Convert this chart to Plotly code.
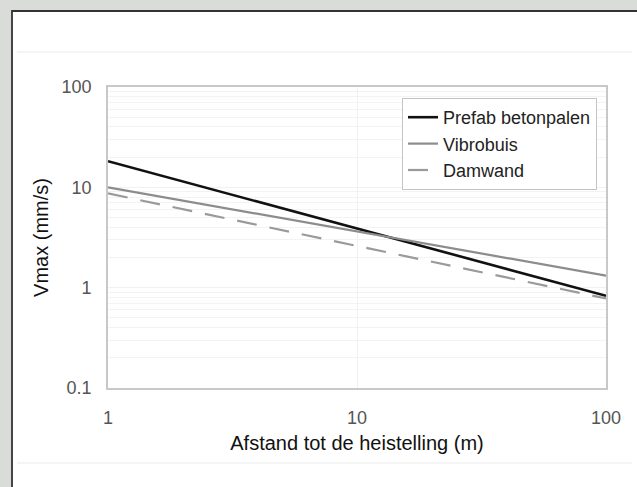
import plotly.graph_objects as go

# Data
distance_m = [1, 10, 100]
prefab_betonpalen = [18.2, 3.9, 0.83]
vibrobuis = [10.0, 3.65, 1.32]
damwand = [8.7, 2.6, 0.78]

x_tick_vals = [1, 10, 100]
x_tick_text = ["1", "10", "100"]
y_tick_vals = [0.1, 1, 10, 100]
y_tick_text = ["0.1", "1", "10", "100"]

W, H = 637, 487
L, R, T, B = 108, 31, 87, 99
pw, ph = W - L - R, H - T - B

def px(x):
    return (x - L) / pw

def py(y):
    return (H - B - y) / ph

FONT = "Liberation Sans, Arial, sans-serif"

fig = go.Figure()
fig.add_trace(go.Scatter(x=distance_m, y=prefab_betonpalen, mode="lines",
                         name="Prefab betonpalen",
                         line=dict(color="#111111", width=2.6)))
fig.add_trace(go.Scatter(x=distance_m, y=vibrobuis, mode="lines",
                         name="Vibrobuis",
                         line=dict(color="#8c8c8c", width=2.2)))
fig.add_trace(go.Scatter(x=distance_m, y=damwand, mode="lines",
                         name="Damwand",
                         line=dict(color="#9a9a9a", width=2.2, dash="20px,13px")))

minor_y = [m * 10 ** e for e in (-1, 0, 1) for m in range(2, 10)]

shapes = [
    # white panel with dark border
    dict(type="rect", xref="paper", yref="paper", layer="below",
         x0=px(12), x1=px(W + 20), y0=py(H + 20), y1=py(11),
         fillcolor="white", line=dict(color="#333333", width=1.8)),
    # faint separator lines
    dict(type="line", xref="paper", yref="paper", layer="below",
         x0=px(17), x1=px(632), y0=py(52), y1=py(52),
         line=dict(color="#ececec", width=1.2)),
    dict(type="line", xref="paper", yref="paper", layer="below",
         x0=px(17), x1=px(632), y0=py(463), y1=py(463),
         line=dict(color="#ececec", width=1.2)),
]

fig.update_layout(
    width=W, height=H,
    margin=dict(l=L, r=R, t=T, b=B, pad=0),
    paper_bgcolor="#dadcda",
    plot_bgcolor="white",
    font=dict(family=FONT, size=18, color="#222222"),
    shapes=shapes,
    showlegend=True,
    legend=dict(x=px(597), y=py(98), xanchor="right", yanchor="top",
                bgcolor="white", bordercolor="#c4c4c4", borderwidth=1,
                font=dict(family=FONT, size=18, color="#222222"),
                tracegroupgap=0, itemwidth=30),
    xaxis=dict(type="log", range=[0, 2],
               tickmode="array", tickvals=x_tick_vals, ticktext=x_tick_text,
               ticks="", ticklabelstandoff=13,
               tickfont=dict(family=FONT, size=18, color="#555555"),
               showgrid=True, gridcolor="#f1f1f1", gridwidth=1,
               zeroline=False, showline=True, mirror=True,
               linecolor="#c8c8c8", linewidth=1.6,
               title=dict(text="Afstand tot de heistelling (m)", standoff=9,
                          font=dict(family=FONT, size=20, color="#111111"))),
    yaxis=dict(type="log", range=[-1, 2],
               tickmode="array", tickvals=y_tick_vals, ticktext=y_tick_text,
               ticks="", ticklabelstandoff=11,
               tickfont=dict(family=FONT, size=18, color="#555555"),
               showgrid=True, gridcolor="#f1f1f1", gridwidth=1,
               minor=dict(tickvals=minor_y, showgrid=True, gridcolor="#f3f3f3",
                          gridwidth=1, ticks=""),
               zeroline=False, showline=True, mirror=True,
               linecolor="#c8c8c8", linewidth=1.6,
               title=dict(text="Vmax (mm/s)", standoff=8,
                          font=dict(family=FONT, size=20, color="#111111"))),
)

fig.write_html(
    "out.html",
    config={"displayModeBar": False},
    post_script="document.body.style.margin='0';document.body.style.overflow='hidden';",
)
